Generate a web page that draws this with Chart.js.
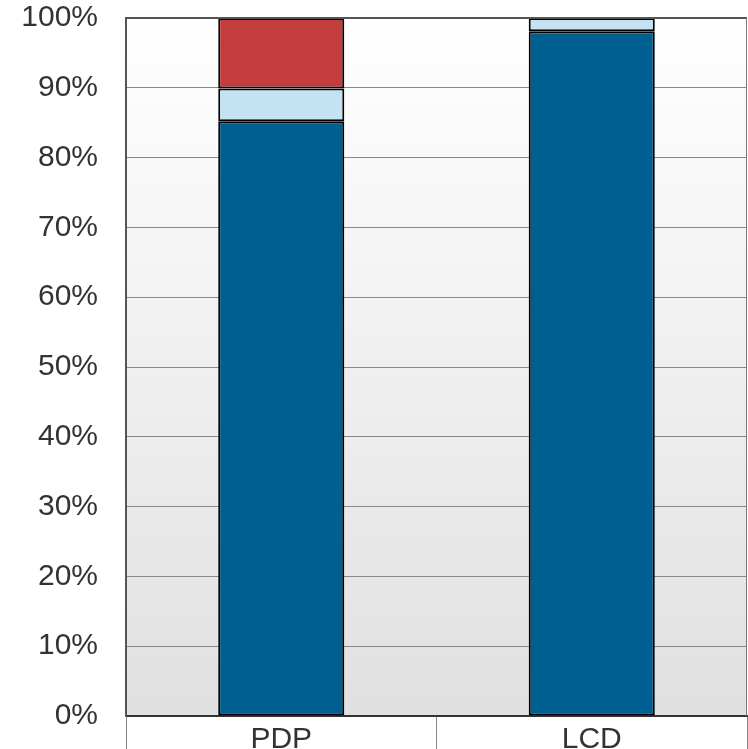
<!DOCTYPE html>
<html>
<head>
<meta charset="utf-8">
<script src="https://cdn.jsdelivr.net/npm/chart.js@4"></script>
<style>
  html, body { margin: 0; padding: 0; background: #fff; }
  #wrap { width: 748px; height: 749px; }
</style>
</head>
<body>
<div id="wrap"><canvas id="myChart"></canvas></div>
<script>
const categories = ['PDP', 'LCD'];
const darkBlue = [85.2, 98.1];
const lightBlue = [4.7, 1.9];
const red = [10.1, 0];
const yTicks = [0, 10, 20, 30, 40, 50, 60, 70, 80, 90, 100];

// gradient behind the plot area, plus the top and right border
const plotBg = {
    id: 'plotBg',
    beforeDraw(chart) {
        const { ctx, chartArea: a } = chart;
        const g = ctx.createLinearGradient(0, a.top, 0, a.bottom);
        g.addColorStop(0, '#ffffff');
        g.addColorStop(1, '#e0e0e0');
        ctx.save();
        ctx.fillStyle = g;
        ctx.fillRect(a.left, a.top, a.right - a.left, a.bottom - a.top);
        ctx.restore();
    },
    afterDraw(chart) {
        const { ctx, chartArea: a } = chart;
        ctx.save();
        ctx.strokeStyle = '#555';
        ctx.lineWidth = 2;
        ctx.beginPath();
        ctx.moveTo(a.left, a.top);
        ctx.lineTo(a.right, a.top);
        ctx.stroke();
        ctx.strokeStyle = '#777';
        ctx.lineWidth = 1;
        ctx.beginPath();
        ctx.moveTo(a.right - 0.5, a.top);
        ctx.lineTo(a.right - 0.5, a.bottom);
        ctx.stroke();
        ctx.restore();
    }
};

const bar = (data, color) => ({
    data: data,
    backgroundColor: color,
    borderColor: '#000',
    borderWidth: 2,
    borderSkipped: false,
    barPercentage: 0.406,
    categoryPercentage: 1
});

const ctx = document.getElementById('myChart').getContext('2d');
const myChart = new Chart(ctx, {
    type: 'bar',
    data: {
        labels: categories,
        datasets: [
            bar(darkBlue, '#005f91'),
            bar(lightBlue, '#c5e2f3'),
            bar(red, '#c33d3f')
        ]
    },
    plugins: [plotBg],
    options: {
        responsive: true,
        maintainAspectRatio: false,
        animation: false,
        layout: { padding: { top: 18, right: 1, left: 0, bottom: 0 } },
        plugins: { legend: { display: false }, tooltip: { enabled: false } },
        scales: {
            x: {
                stacked: true,
                afterFit: s => { s.height = 33; s.paddingLeft = 0; s.paddingRight = 0; },
                border: { color: '#333', width: 2 },
                grid: { offset: true, drawOnChartArea: false, drawTicks: true, tickLength: 33, color: '#888' },
                ticks: { color: '#333', font: { family: 'Liberation Sans', size: 30 }, padding: -27 }
            },
            y: {
                stacked: true,
                min: 0,
                max: 100,
                afterFit: s => { s.width = 126; s.paddingTop = 0; s.paddingBottom = 0; },
                afterBuildTicks: s => { s.ticks = yTicks.map(v => ({ value: v })); },
                border: { color: '#555', width: 2 },
                grid: { color: '#888', lineWidth: 1, drawTicks: false },
                ticks: {
                    color: '#333',
                    padding: 28,
                    font: { family: 'Liberation Sans', size: 30 },
                    callback: v => v + '%'
                }
            }
        }
    }
});
</script>
</body>
</html>
